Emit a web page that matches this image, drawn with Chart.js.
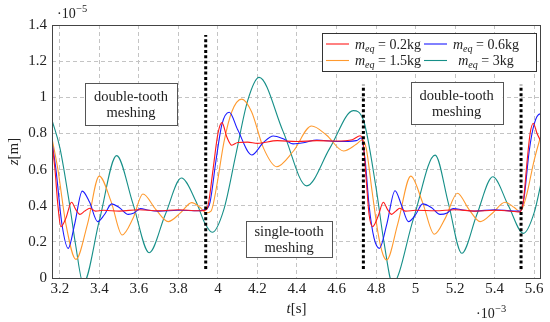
<!DOCTYPE html>
<html>
<head>
<meta charset="utf-8">
<script src="https://cdn.jsdelivr.net/npm/chart.js@4.4.1/dist/chart.umd.min.js"></script>
<style>
  html, body { margin: 0; padding: 0; background: #fff; }
</style>
</head>
<body>
<canvas id="chart" width="550" height="322"></canvas>
<script>
// Déplacement dynamique z(t) pour 4 masses équivalentes
// t en 1e-3 s, z en 1e-5 m

const tRed = [3.16, 3.175, 3.19, 3.205, 3.23, 3.259, 3.28, 3.301, 3.325, 3.352, 3.38, 3.42, 3.5, 3.6, 3.7, 3.8, 3.9, 3.935,
  3.95, 3.975, 4.0, 4.02, 4.045, 4.07, 4.1, 4.15, 4.2, 4.3, 4.4, 4.5, 4.6, 4.68, 4.72, 4.735, 4.75, 4.765, 4.783, 4.81,
  4.837, 4.858, 4.879, 4.9, 4.92, 4.95, 5.0, 5.1, 5.2, 5.3, 5.4, 5.5, 5.525, 5.545, 5.565, 5.58, 5.596, 5.615, 5.64];
const zRed = [0.75, 0.6, 0.4, 0.284, 0.33, 0.419, 0.38, 0.352, 0.37, 0.386, 0.37, 0.375, 0.37, 0.378, 0.372, 0.378, 0.372, 0.375,
  0.40, 0.6, 0.8, 0.86, 0.78, 0.735, 0.75, 0.752, 0.745, 0.76, 0.755, 0.76, 0.758, 0.765, 0.787, 0.75, 0.55, 0.35, 0.284, 0.34,
  0.419, 0.38, 0.352, 0.37, 0.386, 0.37, 0.375, 0.372, 0.378, 0.37, 0.375, 0.368, 0.365, 0.42, 0.65, 0.8, 0.856, 0.8, 0.745];

const tBlue = [3.16, 3.18, 3.21, 3.242, 3.275, 3.313, 3.35, 3.391, 3.425, 3.462, 3.5, 3.546, 3.575, 3.608, 3.65, 3.7, 3.8, 3.9,
  3.94, 3.96, 3.99, 4.02, 4.057, 4.1, 4.171, 4.23, 4.28, 4.33, 4.381, 4.44, 4.5, 4.6, 4.7, 4.725, 4.745, 4.765, 4.79, 4.817,
  4.855, 4.896, 4.93, 4.964, 5.0, 5.036, 5.08, 5.124, 5.16, 5.19, 5.25, 5.3, 5.4, 5.5, 5.53, 5.55, 5.575, 5.6, 5.63, 5.64];
const zBlue = [0.75, 0.6, 0.3, 0.164, 0.3, 0.481, 0.42, 0.312, 0.35, 0.41, 0.39, 0.352, 0.36, 0.384, 0.375, 0.37, 0.375, 0.372,
  0.38, 0.42, 0.65, 0.85, 0.917, 0.82, 0.681, 0.75, 0.786, 0.77, 0.742, 0.75, 0.764, 0.755, 0.76, 0.775, 0.65, 0.4, 0.22, 0.164,
  0.3, 0.483, 0.4, 0.312, 0.35, 0.41, 0.39, 0.352, 0.36, 0.384, 0.375, 0.37, 0.378, 0.37, 0.37, 0.45, 0.7, 0.85, 0.908, 0.905];

const tOrange = [3.16, 3.19, 3.23, 3.281, 3.34, 3.399, 3.46, 3.515, 3.57, 3.62, 3.685, 3.748, 3.81, 3.867, 3.91, 3.94, 3.965,
  3.993, 4.03, 4.07, 4.12, 4.17, 4.23, 4.297, 4.38, 4.474, 4.55, 4.635, 4.7, 4.73, 4.75, 4.78, 4.81, 4.835, 4.854, 4.91, 4.976,
  5.035, 5.095, 5.15, 5.212, 5.27, 5.327, 5.39, 5.453, 5.5, 5.53, 5.56, 5.6, 5.64];
const zOrange = [0.773, 0.6, 0.3, 0.103, 0.3, 0.564, 0.42, 0.238, 0.33, 0.465, 0.38, 0.312, 0.36, 0.417, 0.39, 0.36, 0.37,
  0.505, 0.75, 0.92, 0.99, 0.92, 0.72, 0.616, 0.7, 0.841, 0.79, 0.703, 0.74, 0.764, 0.72, 0.48, 0.25, 0.13, 0.10, 0.3, 0.564,
  0.42, 0.242, 0.33, 0.469, 0.38, 0.312, 0.36, 0.419, 0.39, 0.367, 0.45, 0.65, 0.81];

const tTeal = [3.16, 3.2, 3.25, 3.28, 3.318, 3.4, 3.487, 3.57, 3.652, 3.733, 3.815, 3.89, 3.935, 3.971, 4.03, 4.09, 4.15, 4.208,
  4.33, 4.449, 4.567, 4.685, 4.736, 4.8, 4.84, 4.884, 4.99, 5.099, 5.167, 5.234, 5.31, 5.391, 5.47, 5.546, 5.6, 5.64];
const zTeal = [0.874, 0.72, 0.40, 0.18, -0.03, 0.32, 0.677, 0.41, 0.14, 0.35, 0.553, 0.42, 0.30, 0.253, 0.38, 0.68, 0.98, 1.11,
  0.81, 0.51, 0.72, 0.926, 0.874, 0.50, 0.2, -0.03, 0.33, 0.68, 0.41, 0.137, 0.35, 0.56, 0.40, 0.247, 0.36, 0.55];

const masses = ['0.2kg', '0.6kg', '1.5kg', '3kg'];
const colors = ['#ff1a1a', '#1a1aff', '#ff9a2e', '#168f88'];

// Changements d'engrènement (traits pointillés noirs)
const switchT = [3.938, 4.736, 5.534];
const switchTop = [1.345, 1.07, 1.07];
const switchBottom = 0.05;

const xTicks = [3.2, 3.4, 3.6, 3.8, 4.0, 4.2, 4.4, 4.6, 4.8, 5.0, 5.2, 5.4, 5.6];
const yTicks = [0, 0.2, 0.4, 0.6, 0.8, 1.0, 1.2, 1.4];

const notes = [
  { t: 3.56, z: 0.963, w: 92, h: 42, lines: ['double-tooth', 'meshing'] },
  { t: 5.208, z: 0.966, w: 92, h: 42, lines: ['double-tooth', 'meshing'] },
  { t: 4.36, z: 0.216, w: 86, h: 36, lines: ['single-tooth', 'meshing'] },
];

const SERIF = "'Liberation Serif', 'DejaVu Serif', serif";

function pairs(ts, zs) {
  return ts.map((t, i) => ({ x: t, y: zs[i] }));
}

const curves = [[tRed, zRed], [tBlue, zBlue], [tOrange, zOrange], [tTeal, zTeal]];

const datasets = [];
switchT.forEach((t, i) => {
  datasets.push({
    data: [{ x: t, y: switchBottom }, { x: t, y: switchTop[i] }],
    borderColor: '#000',
    borderWidth: 3,
    borderDash: [3, 2.4],
    pointRadius: 0,
    tension: 0,
  });
});
curves.forEach(([ts, zs], i) => {
  datasets.push({
    data: pairs(ts, zs),
    borderColor: colors[i],
    borderWidth: 1.1,
    pointRadius: 0,
    cubicInterpolationMode: 'monotone',
  });
});

// m_eq = ... avec indice
function drawMeq(ctx, x, y, value, size) {
  ctx.textBaseline = 'alphabetic';
  ctx.textAlign = 'left';
  ctx.font = `italic ${size}px ${SERIF}`;
  ctx.fillText('m', x, y);
  let cx = x + ctx.measureText('m').width;
  ctx.font = `italic ${size * 0.72}px ${SERIF}`;
  ctx.fillText('eq', cx, y + 3);
  cx += ctx.measureText('eq').width;
  ctx.font = `${size}px ${SERIF}`;
  ctx.fillText(' = ' + value, cx, y);
}

function meqWidth(ctx, value, size) {
  ctx.font = `italic ${size}px ${SERIF}`;
  let w = ctx.measureText('m').width;
  ctx.font = `italic ${size * 0.72}px ${SERIF}`;
  w += ctx.measureText('eq').width;
  ctx.font = `${size}px ${SERIF}`;
  return w + ctx.measureText(' = ' + value).width;
}

const decorations = {
  id: 'decorations',
  afterDraw(chart) {
    const { ctx, chartArea: a, scales: { x, y } } = chart;
    ctx.save();
    ctx.fillStyle = '#222';

    // cadre
    ctx.strokeStyle = '#444';
    ctx.lineWidth = 1;
    ctx.strokeRect(a.left + 0.5, a.top + 0.5, a.right - a.left - 1, a.bottom - a.top);

    // boîtes d'annotation
    notes.forEach((n) => {
      const cx = x.getPixelForValue(n.t);
      const cy = y.getPixelForValue(n.z);
      ctx.fillStyle = '#fff';
      ctx.fillRect(cx - n.w / 2, cy - n.h / 2, n.w, n.h);
      ctx.strokeStyle = '#555';
      ctx.strokeRect(Math.round(cx - n.w / 2) + 0.5, Math.round(cy - n.h / 2) + 0.5, n.w, n.h);
      ctx.fillStyle = '#222';
      ctx.font = `14.5px ${SERIF}`;
      ctx.textAlign = 'center';
      ctx.textBaseline = 'middle';
      ctx.fillText(n.lines[0], cx, cy - 7);
      ctx.fillText(n.lines[1], cx, cy + 9);
    });

    // légende sur deux colonnes
    const lw = 214, lh = 38;
    const lx = a.right - 5 - lw, ly = a.top + 8;
    ctx.fillStyle = '#fff';
    ctx.fillRect(lx, ly, lw, lh);
    ctx.strokeStyle = '#333';
    ctx.strokeRect(lx + 0.5, ly + 0.5, lw, lh);
    const size = 14;
    masses.forEach((m, i) => {
      const col = i % 2, row = Math.floor(i / 2);
      const x0 = lx + 4 + col * 98;
      const yy = ly + 11 + row * 16.5;
      ctx.strokeStyle = colors[i];
      ctx.lineWidth = 1.1;
      ctx.beginPath();
      ctx.moveTo(x0, yy);
      ctx.lineTo(x0 + 23, yy);
      ctx.stroke();
      ctx.fillStyle = '#222';
      const cellCenter = x0 + 27 + 35;
      const w = meqWidth(ctx, m, size);
      drawMeq(ctx, cellCenter - w / 2, yy + 4.5, m, size);
    });

    // titres des axes
    ctx.fillStyle = '#222';
    ctx.textBaseline = 'alphabetic';
    ctx.textAlign = 'left';
    const tx = (a.left + a.right) / 2;
    ctx.font = `italic 15px ${SERIF}`;
    const wt = ctx.measureText('t').width;
    ctx.font = `15px ${SERIF}`;
    const ws = ctx.measureText('[s]').width;
    let sx = tx - (wt + ws) / 2;
    ctx.font = `italic 15px ${SERIF}`;
    ctx.fillText('t', sx, 313);
    ctx.font = `15px ${SERIF}`;
    ctx.fillText('[s]', sx + wt, 313);

    ctx.save();
    ctx.translate(18, (a.top + a.bottom) / 2);
    ctx.rotate(-Math.PI / 2);
    ctx.font = `italic 15px ${SERIF}`;
    const wz = ctx.measureText('z').width;
    ctx.font = `15px ${SERIF}`;
    const wm = ctx.measureText('[m]').width;
    sx = -(wz + wm) / 2;
    ctx.font = `italic 15px ${SERIF}`;
    ctx.fillText('z', sx, 0);
    ctx.font = `15px ${SERIF}`;
    ctx.fillText('[m]', sx + wz, 0);
    ctx.restore();

    // facteurs d'échelle
    const scaleNote = (px, py, exp) => {
      ctx.font = `14px ${SERIF}`;
      ctx.fillText('·10', px, py);
      const w = ctx.measureText('·10').width;
      ctx.font = `10.5px ${SERIF}`;
      ctx.fillText(exp, px + w + 0.5, py - 6);
    };
    scaleNote(a.left + 5, 18, '−5');
    scaleNote(476, 318, '−3');

    ctx.restore();
  },
};

new Chart(document.getElementById('chart'), {
  type: 'line',
  data: { datasets },
  options: {
    responsive: false,
    animation: false,
    devicePixelRatio: 1,
    layout: { padding: { left: 0, right: 9, top: 25, bottom: 0 } },
    plugins: { legend: { display: false }, tooltip: { enabled: false } },
    scales: {
      x: {
        type: 'linear',
        min: 3.16,
        max: 5.635,
        afterBuildTicks: (s) => { s.ticks = xTicks.map((v) => ({ value: v })); },
        afterFit: (s) => { s.height = 44; },
        ticks: {
          color: '#222',
          padding: 2,
          maxRotation: 0,
          autoSkip: false,
          font: { family: SERIF, size: 15 },
          callback: (v) => String(Math.round(v * 10) / 10),
        },
        grid: { color: '#c4c4c4', lineWidth: 1, drawTicks: false },
        border: { display: false, dash: [4, 3] },
      },
      y: {
        type: 'linear',
        min: 0,
        max: 1.4,
        afterBuildTicks: (s) => { s.ticks = yTicks.map((v) => ({ value: v })); },
        afterFit: (s) => { s.width = 52; },
        ticks: {
          color: '#222',
          padding: 5,
          autoSkip: false,
          font: { family: SERIF, size: 15 },
          callback: (v) => String(Math.round(v * 10) / 10),
        },
        grid: { color: '#c4c4c4', lineWidth: 1, drawTicks: false },
        border: { display: false, dash: [4, 3] },
      },
    },
  },
  plugins: [decorations],
});
</script>
</body>
</html>
